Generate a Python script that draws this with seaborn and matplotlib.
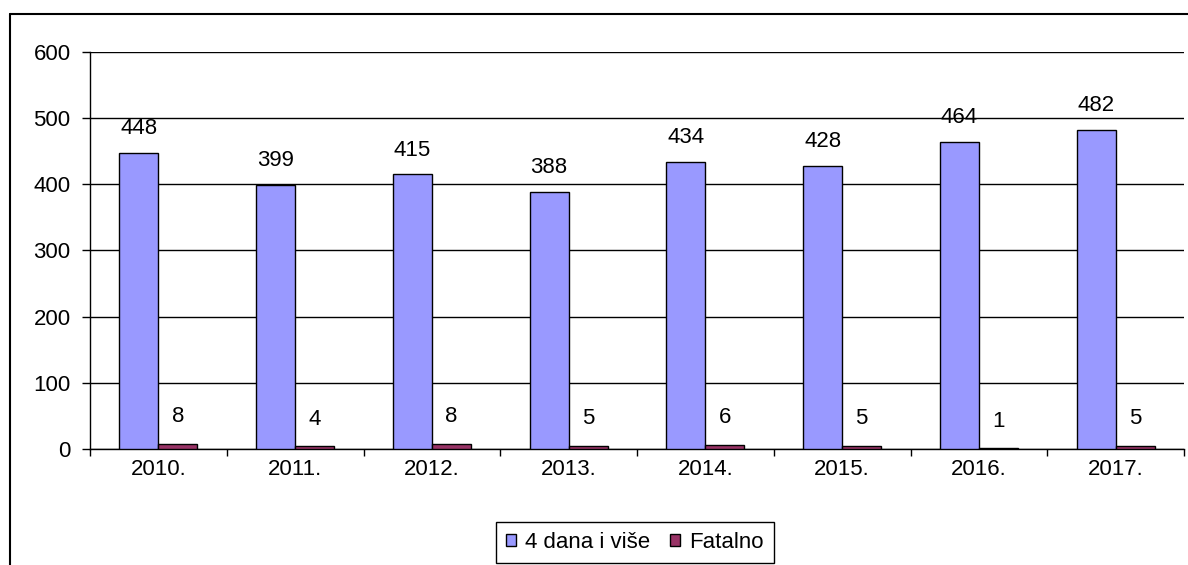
import matplotlib
matplotlib.use("Agg")
import matplotlib.pyplot as plt
import pandas as pd
import seaborn as sns
from matplotlib.lines import Line2D
from matplotlib.ticker import FixedLocator

# Data
years = ['2010.', '2011.', '2012.', '2013.', '2014.', '2015.', '2016.', '2017.']
dana4 = [448, 399, 415, 388, 434, 428, 464, 482]
fatalno = [8, 4, 8, 5, 6, 5, 1, 5]
series_names = ['4 dana i više', 'Fatalno']
colors = ['#9999FF', '#993366']

df = pd.DataFrame({
    'Godina': years * 2,
    'Broj': dana4 + fatalno,
    'Serija': [series_names[0]] * len(years) + [series_names[1]] * len(years),
})

sns.set_style("white")
plt.rcParams['font.family'] = ['Liberation Sans', 'DejaVu Sans']
plt.rcParams['text.color'] = 'black'
plt.rcParams['xtick.color'] = 'black'
plt.rcParams['ytick.color'] = 'black'

fig = plt.figure(figsize=(11.88, 5.65), dpi=100)
W, H = 1188, 565
ax = fig.add_axes([90 / W, 1 - 449 / H, (1184 - 90) / W, (449 - 52) / H])

sns.barplot(data=df, x='Godina', y='Broj', hue='Serija', order=years,
            hue_order=series_names, palette=colors, width=0.57, gap=0,
            edgecolor='black', linewidth=1, saturation=1, ax=ax, zorder=3)

# value labels
for cont, pad in zip(ax.containers, [10, 12]):
    ax.bar_label(cont, padding=pad, fontsize=16, color='black')

ax.set_ylim(0, 600)
ax.set_xlim(-0.5, len(years) - 0.5)
ax.set_yticks(range(0, 601, 100))
ax.yaxis.grid(True, color='black', linewidth=1)
ax.set_axisbelow(True)

# ticks at category boundaries, labels at centers
ax.xaxis.set_major_locator(FixedLocator([i - 0.5 for i in range(len(years) + 1)]))
ax.set_xticklabels([''] * (len(years) + 1))
ax.xaxis.set_minor_locator(FixedLocator(range(len(years))))
ax.set_xticklabels(years, minor=True)
ax.tick_params(axis='x', which='major', length=5, width=1, color='black', bottom=True)
ax.tick_params(axis='x', which='minor', length=0, pad=7, labelsize=16, labelcolor='black')
ax.tick_params(axis='y', length=6, width=1, color='black', left=True, labelsize=16,
               labelcolor='black', pad=8)

ax.set_xlabel('')
ax.set_ylabel('')
for s in ['top', 'right']:
    ax.spines[s].set_visible(False)
for s in ['left', 'bottom']:
    ax.spines[s].set_color('black')
    ax.spines[s].set_linewidth(1)

leg = ax.legend(loc='lower center', bbox_to_anchor=(635 / W, 2 / H), bbox_transform=fig.transFigure,
                borderaxespad=0, ncol=2, fontsize=16, frameon=True, fancybox=False,
                edgecolor='black', framealpha=1,
                handlelength=0.45, handleheight=0.45, handletextpad=0.4,
                columnspacing=0.9, borderpad=0.45)
leg.get_frame().set_linewidth(1)
for t in leg.get_texts():
    t.set_color('black')

# outer chart frame (left and top edges visible)
fig.add_artist(Line2D([10 / W, 10 / W], [0, 1 - 14 / H], color='black', linewidth=1.5))
fig.add_artist(Line2D([10 / W, 1], [1 - 14 / H, 1 - 14 / H], color='black', linewidth=1.5))

fig.savefig('out.png', dpi=100)
